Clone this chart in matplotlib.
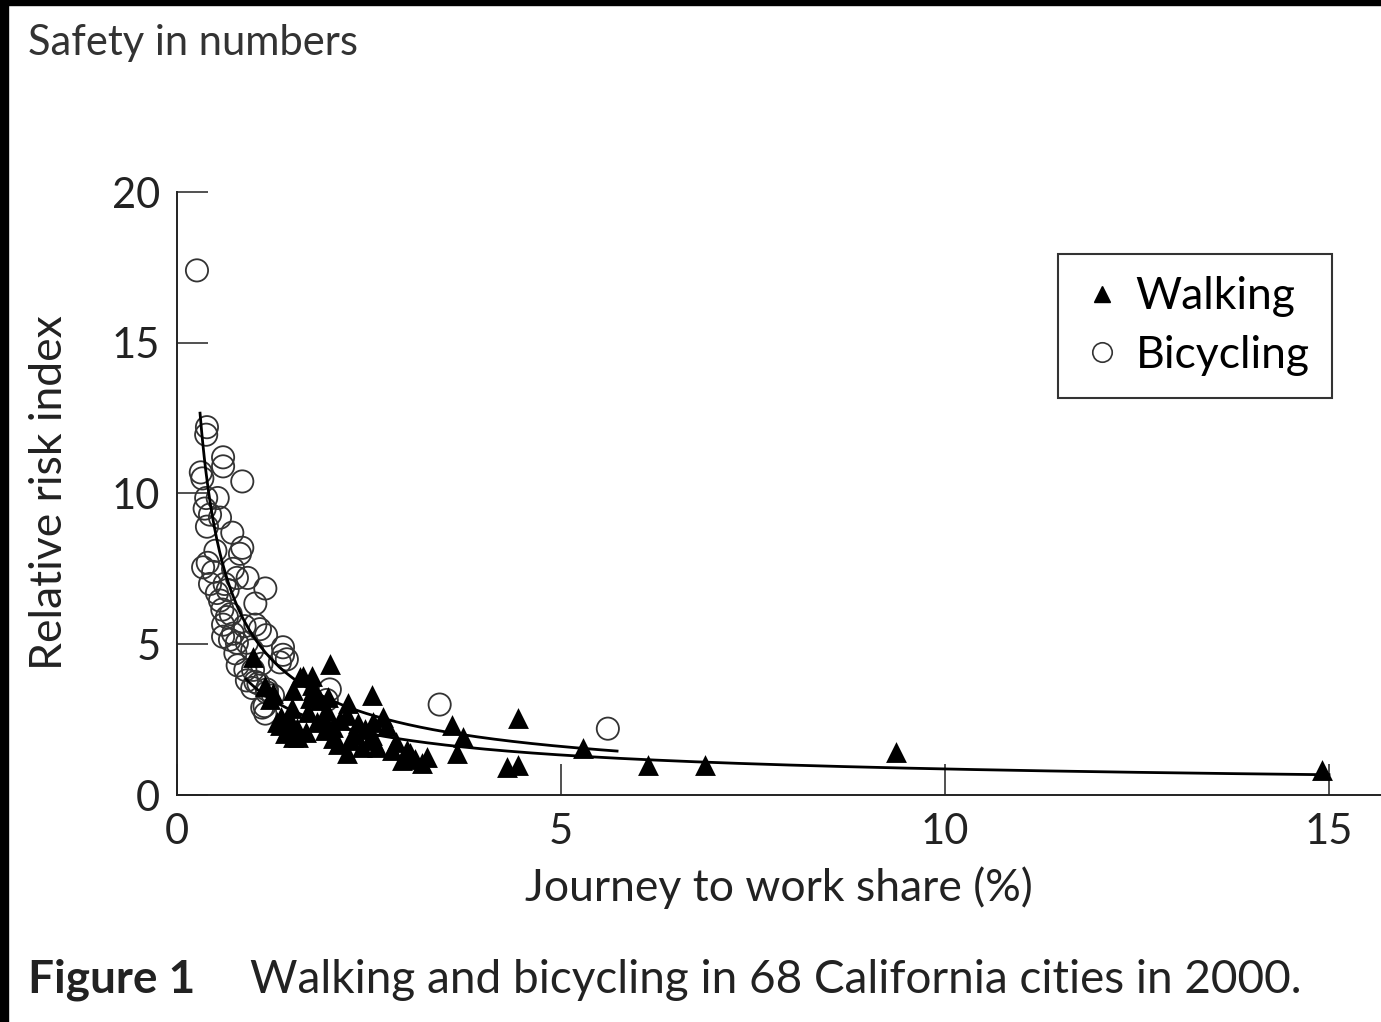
import numpy as np
import matplotlib.pyplot as plt
from matplotlib.lines import Line2D
from matplotlib.patches import Rectangle

plt.rcParams['font.family'] = ['Lato', 'DejaVu Sans']

# journey to work share (%) and relative risk index, 68 cities
walk_share = [0.99, 1.99, 1.64, 1.76, 2.54, 1.25, 1.51, 1.73, 1.86, 1.97,
              2.23, 2.21, 2.55, 2.73, 1.30, 1.47, 1.56, 1.58, 1.82, 1.93,
              2.03, 2.25, 2.21, 2.55, 2.60, 2.80, 2.99, 2.93, 3.19, 3.26,
              3.58, 3.72, 3.65, 4.44, 4.30, 4.44, 5.29, 6.13, 6.88, 9.36,
              14.91, 1.34, 1.60, 1.50, 1.76, 1.21, 1.43, 1.51, 1.71, 1.90,
              2.36, 2.68, 3.03, 2.41, 2.03, 2.54, 2.12, 1.77, 1.40, 2.30,
              1.68, 2.85, 1.15, 2.10, 1.36, 1.95, 2.45, 3.10]
walk_risk = [4.58, 4.35, 3.95, 3.95, 3.32, 3.38, 3.48, 3.22, 3.15, 3.25,
             3.05, 2.65, 2.42, 2.29, 2.42, 2.49, 2.22, 1.92, 2.42, 2.16,
             1.89, 1.82, 1.39, 1.82, 1.59, 1.49, 1.49, 1.16, 1.06, 1.26,
             2.32, 1.92, 1.39, 2.55, 0.93, 1.00, 1.56, 1.00, 1.00, 1.43,
             0.83, 2.32, 3.90, 2.90, 3.65, 3.20, 2.16, 1.92, 2.75, 2.59,
             2.39, 2.59, 1.39, 1.59, 2.26, 1.99, 2.49, 3.48, 2.05, 2.00,
             2.10, 1.75, 3.60, 1.70, 2.60, 2.80, 2.20, 1.20]

bike_share = [0.26, 0.39, 0.38, 0.60, 0.60, 0.31, 0.33, 0.85, 0.38, 0.53,
              0.36, 0.43, 0.56, 0.39, 0.72, 0.85, 0.82, 0.40, 0.47, 0.73,
              0.78, 0.92, 0.43, 1.15, 0.52, 0.56, 0.66, 1.02, 0.59, 0.65,
              0.60, 1.02, 1.08, 1.16, 0.60, 0.69, 0.78, 0.91, 0.98, 1.38,
              1.38, 1.34, 0.79, 0.89, 1.02, 0.98, 1.17, 1.11, 1.15, 1.99,
              1.95, 3.42, 5.61, 0.34, 0.73, 0.91, 1.06, 1.43, 0.99, 1.17,
              1.14, 0.50, 0.70, 0.88, 1.25, 0.62, 0.76, 1.10]
bike_risk = [17.4, 12.2, 11.95, 11.2, 10.9, 10.7, 10.5, 10.4, 9.85, 9.85,
             9.5, 9.3, 9.2, 8.9, 8.7, 8.2, 8.0, 7.7, 7.4, 7.5,
             7.2, 7.2, 7.0, 6.85, 6.7, 6.45, 6.8, 6.35, 6.15, 5.9,
             5.65, 5.65, 5.5, 5.3, 5.25, 5.15, 5.05, 5.05, 4.8, 4.9,
             4.65, 4.4, 4.3, 4.15, 3.75, 3.55, 3.4, 2.9, 2.7, 3.5,
             3.15, 3.0, 2.2, 7.55, 5.35, 3.8, 3.7, 4.5, 4.15, 3.5,
             2.95, 8.1, 6.0, 5.6, 3.3, 7.0, 4.7, 4.35]

# power curve fits: risk = a * share ** b, drawn over share range
walk_fit = (3.6, -0.62)
walk_range = (0.9, 15.0)
bike_fit = (5.24, -0.733)
bike_range = (0.30, 5.73)

x_ticks = [0, 5, 10, 15]
y_ticks = [0, 5, 10, 15, 20]

W, H = 1381, 1022
fig = plt.figure(figsize=(W / 100, H / 100), dpi=100)
fig.patch.set_facecolor('white')

ax = fig.add_axes([177 / W, 227 / H, (W - 177) / W, 603 / H])
ax.set_xlim(0, (W - 177) / 76.8)
ax.set_ylim(0, 20)

for name in ['top', 'right']:
    ax.spines[name].set_visible(False)
for name in ['left', 'bottom']:
    ax.spines[name].set_linewidth(1.4)
    ax.spines[name].set_color('#222222')

ax.set_xticks(x_ticks)
ax.set_yticks(y_ticks)
ax.tick_params(direction='in', length=22, width=1.1, color='#222222',
               labelsize=30, labelcolor='#222222')
ax.tick_params(axis='y', pad=12)
ax.tick_params(axis='x', pad=13)

ax.scatter(bike_share, bike_risk, s=16 ** 2, facecolors='none',
           edgecolors='#333333', linewidths=1.3, marker='o', zorder=3,
           clip_on=False)
ax.scatter(walk_share, walk_risk, s=15 ** 2, color='black', marker='^',
           linewidths=0, zorder=4, clip_on=False)

for (a, b), (lo, hi) in [(walk_fit, walk_range), (bike_fit, bike_range)]:
    xs = np.linspace(lo, hi, 300)
    ax.plot(xs, a * xs ** b, color='black', linewidth=2.0, zorder=5)

handles = [
    Line2D([], [], linestyle='none', marker='^', color='black',
           markersize=11, label='Walking'),
    Line2D([], [], linestyle='none', marker='o', markerfacecolor='none',
           markeredgecolor='#333333', markeredgewidth=1.2, markersize=14,
           label='Bicycling'),
]
leg = ax.legend(handles=handles, loc='upper left',
                bbox_to_anchor=(1058 / W, 1 - 254 / H),
                bbox_transform=fig.transFigure, fontsize=32, frameon=True,
                fancybox=False, edgecolor='black', borderpad=0.5,
                handletextpad=0.25, labelspacing=0.4, handlelength=1.0,
                borderaxespad=0)
leg.get_frame().set_linewidth(1.5)

fig.text(779 / W, 1 - 888 / H, 'Journey to work share (%)', fontsize=32,
         ha='center', va='center', color='#222222')
fig.text(50 / W, 1 - 493 / H, 'Relative risk index', fontsize=32,
         rotation=90, ha='center', va='center', color='#222222')

fig.text(28 / W, 1 - 43 / H, 'Safety in numbers', fontsize=30,
         ha='left', va='center', color='#333333')
fig.text(28 / W, 1 - 980 / H, 'Figure 1', fontsize=33, fontweight='bold',
         ha='left', va='center', color='#222222')
fig.text(250 / W, 1 - 980 / H,
         'Walking and bicycling in 68 California cities in 2000.',
         fontsize=33, ha='left', va='center', color='#222222')

# dark edge strips along the top and left of the page
fig.patches.append(Rectangle((0, 1 - 5 / H), 1, 5 / H, color='black',
                             transform=fig.transFigure, figure=fig))
fig.patches.append(Rectangle((0, 0), 8 / W, 1, color='black',
                             transform=fig.transFigure, figure=fig))

fig.savefig('out.png', dpi=100)
